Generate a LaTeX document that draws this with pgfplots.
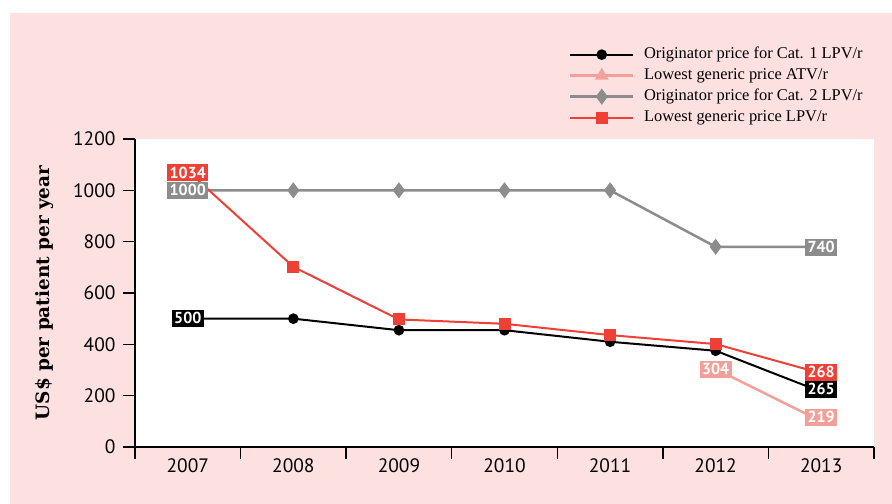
\documentclass[border=0pt]{standalone}
\usepackage{pgfplots}
\pgfplotsset{compat=1.18}
\usepackage{fontspec}
\setmainfont{Liberation Serif}
\newfontfamily\ticksf{PT Sans}
\newfontfamily\slab{DejaVu Serif}

\definecolor{bgpink}{RGB}{253,224,224}
\definecolor{cred}{RGB}{238,64,54}
\definecolor{cpink}{RGB}{244,160,154}
\definecolor{cgrey}{RGB}{140,140,140}

\tikzset{lbl/.style={font=\ticksf\bfseries\fontsize{16}{16}\selectfont, text=white,
  inner xsep=2.5bp, inner ysep=0pt, minimum height=17bp, anchor=center}}

\begin{document}
\begin{tikzpicture}
\useasboundingbox (0,0) rectangle (892bp,504bp);
\fill[bgpink] (10bp,0) rectangle (892bp,491bp);
\begin{axis}[
  at={(135bp,57bp)}, anchor=south west,
  scale only axis, width=739bp, height=308bp,
  xmin=2006.5, xmax=2013.5, ymin=0, ymax=1200,
  axis x line*=bottom, axis y line*=left,
  axis line style={line width=1.3bp, -},
  axis background/.style={fill=white},
  xtick={2006.5,2007.5,2008.5,2009.5,2010.5,2011.5,2012.5,2013.5},
  xticklabels={2007,2008,2009,2010,2011,2012,2013,},
  x tick label as interval,
  ytick={0,200,...,1200},
  tick align=outside, major tick length=12bp,
  tick style={line width=1.3bp, black},
  ticklabel style={font=\ticksf\fontsize{19.5}{22}\selectfont},
  xticklabel style={yshift=4bp},
  yticklabel style={xshift=-4bp},
  /pgf/number format/assume math mode=true,
  /pgf/number format/1000 sep={},
  ylabel={\slab\bfseries US\$ per patient per year},
  ylabel style={font=\fontsize{18.5}{20}\selectfont, at={(axis description cs:-0.123,0.5)}, anchor=center},
  legend style={at={(axis description cs:0.583,1.315)}, anchor=north west,
    draw=none, fill=none, font=\fontsize{16.5}{19}\selectfont, row sep=0bp,
    nodes={inner sep=3.5bp, text height=11bp, text depth=3bp},
    /tikz/every odd column/.append style={column sep=6bp}},
  legend image code/.code={\draw[mark repeat=2,mark phase=2] plot coordinates {(0bp,0bp) (31.5bp,0bp) (63bp,0bp)};},
  legend cell align=left,
  clip=false,
  clip marker paths=true,
]
\addplot[black, line width=2bp, mark=*, mark size=4.3bp] coordinates {
  (2007,500) (2008,500) (2009,455) (2010,455) (2011,410) (2012,375) (2013,215)};
\addlegendentry{Originator price for Cat. 1 LPV/r}
\addplot[cpink, line width=2.5bp, mark=triangle*, mark size=5.5bp] coordinates {
  (2012,304) (2013,100)};
\addlegendentry{Lowest generic price ATV/r}
\addplot[cgrey, line width=2.5bp, mark=diamond*, mark size=6bp] coordinates {
  (2007,1000) (2008,1000) (2009,1000) (2010,1000) (2011,1000) (2012,780) (2013,780)};
\addlegendentry{Originator price for Cat. 2 LPV/r}
\addplot[cred, line width=2bp, mark=square*, mark size=5bp] coordinates {
  (2007,1075) (2008,702) (2009,497) (2010,480) (2011,436) (2012,401) (2013,287)};
\addlegendentry{Lowest generic price LPV/r}

\node[lbl, fill=cred] at (axis cs:2007,1069) {1034};
\node[lbl, fill=cgrey] at (axis cs:2007,1000) {1000};
\node[lbl, fill=black] at (axis cs:2007,502) {500};
\node[lbl, fill=cgrey] at (axis cs:2013,779) {740};
\node[lbl, fill=cpink] at (axis cs:2012,303) {304};
\node[lbl, fill=cred] at (axis cs:2013,292) {268};
\node[lbl, fill=black] at (axis cs:2013,225) {265};
\node[lbl, fill=cpink] at (axis cs:2013,116) {219};
\end{axis}
\end{tikzpicture}
\end{document}
